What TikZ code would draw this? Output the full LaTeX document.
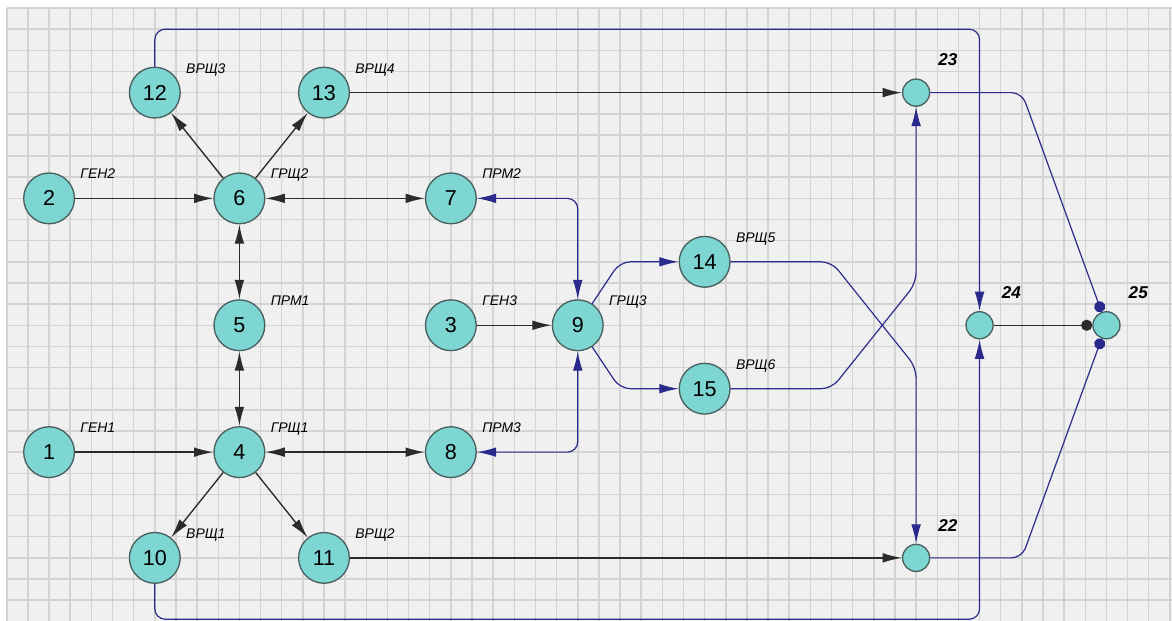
\documentclass[tikz,border=0pt]{standalone}
\usepackage{fontspec}
\setmainfont{Liberation Sans}
\usetikzlibrary{arrows.meta, calc, positioning}

\definecolor{gridbg}{HTML}{F0F0F0}
\definecolor{gridln}{HTML}{D3D3D3}
\definecolor{busfill}{HTML}{7DD6D1}
\definecolor{busedge}{HTML}{4A6060}
\definecolor{wireblue}{HTML}{2A2A8C}
\definecolor{wireblack}{HTML}{2B2B2B}

\tikzset{
  >={Latex[length=13pt,width=6.5pt]},
  bus/.style={circle, draw=busedge, fill=busfill, line width=0.9pt, minimum size=1.2cm, inner sep=0pt, font=\fontsize{14.5}{16}\selectfont},
  tap/.style={circle, draw=busedge, fill=busfill, line width=0.9pt, minimum size=0.64cm, inner sep=0pt},
  tag/.style={anchor=base west, inner sep=0pt, font=\fontsize{9.4}{10}\selectfont\itshape},
  tapnum/.style={anchor=base west, inner sep=0pt, font=\fontsize{11.5}{12}\selectfont\bfseries\itshape},
  feed/.style={draw=wireblack, line width=0.9pt},
  link/.style={draw=wireblue, line width=0.8pt, rounded corners=7pt},
  dot/.style={-{Circle[length=7.5pt]}}
}

\begin{document}
\begin{tikzpicture}[x=0.5cm, y=-0.5cm]
        % Canvas and grid
        \useasboundingbox (-0.32,-0.38) rectangle (55.1,28.98);
        \fill[white] (-0.32,-0.38) rectangle (55.1,28.98);
        \fill[gridbg] (0,0) rectangle (55.1,28.98);
        \foreach \gx in {0,...,55} \draw[gridln, line width=1pt] (\gx,0) -- (\gx,28.98);
        \foreach \gy in {0,...,28} \draw[gridln, line width=1pt] (0,\gy) -- (55.1,\gy);
        % Buses (large circles)
        \foreach \id/\gx/\gy in {1/2/21, 2/2/9, 3/21/15, 4/11/21, 5/11/15, 6/11/9, 7/21/9, 8/21/21,
                                 9/27/15, 10/7/26, 11/15/26, 12/7/4, 13/15/4, 14/33/12, 15/33/18}
          \node[bus] (n\id) at (\gx,\gy) {\id};
        % Junctions (small circles)
        \foreach \id/\gx/\gy in {22/43/26, 23/43/4, 24/46/15, 25/52/15}
          \node[tap] (n\id) at (\gx,\gy) {};
        % Names of the buses
        \foreach \id/\txt in {1/ГЕН1, 2/ГЕН2, 3/ГЕН3, 4/ГРЩ1, 5/ПРМ1, 6/ГРЩ2, 7/ПРМ2, 8/ПРМ3, 9/ГРЩ3,
                              10/ВРЩ1, 11/ВРЩ2, 12/ВРЩ3, 13/ВРЩ4, 14/ВРЩ5, 15/ВРЩ6}
          \node[tag] (t\id) at ($(n\id)+(1.47,-0.92)$) {\txt};
        \foreach \id in {22, 23, 24, 25}
          \node[tapnum] (t\id) at ($(n\id)+(1.04,-1.27)$) {\id};
        % Routing levels of the long return lines
        \coordinate (ringtop) at (0,1);
        \coordinate (ringbot) at (0,28.9);
        % Black feeders
        \draw[feed, ->] (n2) -- (n6);
        \draw[feed, ->] (n1) -- (n4);
        \draw[feed, ->] (n3) -- (n9);
        \draw[feed, ->] (n6) -- (n12);
        \draw[feed, ->] (n6) -- (n13);
        \draw[feed, ->] (n4) -- (n10);
        \draw[feed, ->] (n4) -- (n11);
        \draw[feed, <->] (n6) -- (n7);
        \draw[feed, <->] (n6) -- (n5);
        \draw[feed, <->] (n5) -- (n4);
        \draw[feed, <->] (n4) -- (n8);
        \draw[feed, ->] (n13) -- (n23);
        \draw[feed, ->] (n11) -- (n22);
        \draw[feed, dot] (n24) -- (n25);
        % Blue links
        \draw[link, <->] (n7) -| (n9);
        \draw[link, <->] (n8) -| (n9);
        \draw[link, ->] (n9) -- (29,12) -- (n14);
        \draw[link, ->] (n9) -- (29,18) -- (n15);
        \draw[link, ->] (n14) -- (39,12) -- (43,17) -- (n22);
        \draw[link, ->] (n15) -- (39,18) -- (43,13) -- (n23);
        \draw[link, ->] (n12) -- (n12 |- ringtop) -- (n24 |- ringtop) -- (n24);
        \draw[link, ->] (n10) -- (n10 |- ringbot) -- (n24 |- ringbot) -- (n24);
        \draw[link, dot] (n23) -- (48,4) -- (n25);
        \draw[link, dot] (n22) -- (48,26) -- (n25);
    \end{tikzpicture}
\end{document}
